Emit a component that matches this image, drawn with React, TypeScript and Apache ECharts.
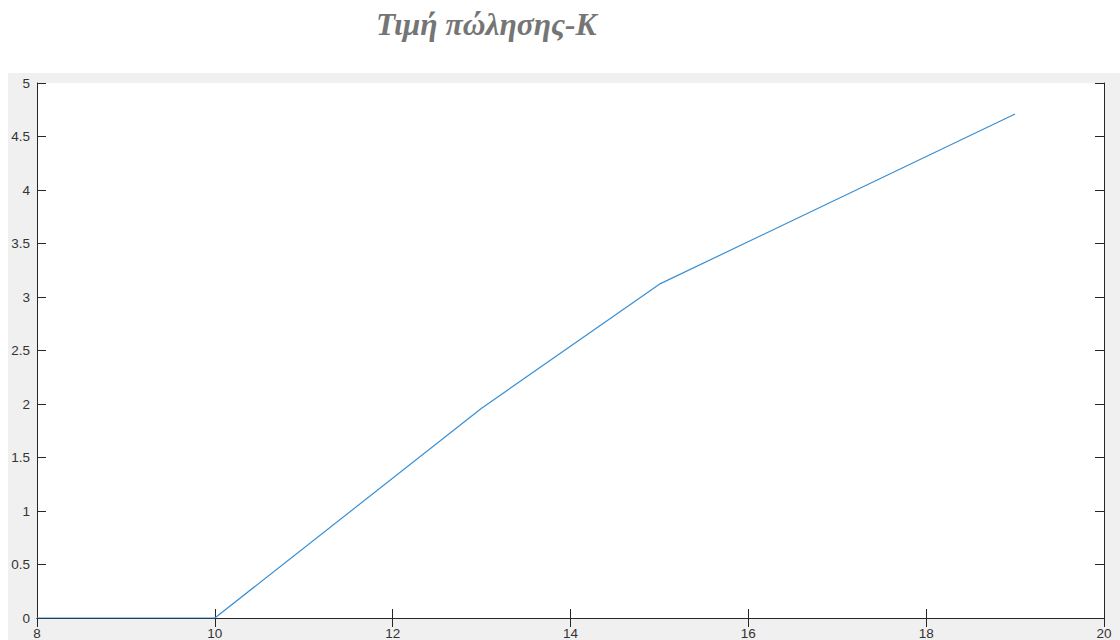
import React, { useEffect, useRef } from "react";
import * as echarts from "echarts";

const titleText = "Τιμή πώλησης-K";
const xValues = [8, 10, 13, 15, 19];
const yValues = [0, 0, 1.96, 3.12, 4.71];
const xTicks = { min: 8, max: 20, interval: 2 };
const yTicks = { min: 0, max: 5, interval: 0.5 };

export default function App() {
  const ref = useRef<HTMLDivElement>(null);
  useEffect(() => {
    document.body.style.margin = "0";
    const chart = echarts.init(ref.current!, null, { renderer: "svg" });
    const axisLine = { show: true, lineStyle: { color: "#262626", width: 1 } };
    const tick = { show: true, inside: true, length: 9, lineStyle: { color: "#262626" } };
    const label = { color: "#333333", fontSize: 13.5, fontFamily: "'Liberation Sans', Arial, sans-serif" };
    chart.setOption({
      animation: false,
      backgroundColor: "#ffffff",
      graphic: [
        {
          type: "rect",
          z: -10,
          silent: true,
          shape: { x: 8, y: 73, width: 1112, height: 567 },
          style: { fill: "#f0f0f0" },
        },
        {
          type: "text",
          left: 376,
          top: 8,
          style: {
            text: titleText,
            fill: "#757575",
            font: "italic bold 31.5px 'Liberation Serif', 'Times New Roman', serif",
          },
        },
      ],
      grid: { left: 37, right: 16, top: 83, bottom: 22, show: true, backgroundColor: "#ffffff", borderWidth: 0 },
      xAxis: [
        {
          type: "value",
          ...xTicks,
          position: "bottom",
          axisLine,
          axisTick: tick,
          splitLine: { show: false },
          axisLabel: { ...label, margin: 8 },
        },
        {
          type: "value",
          ...xTicks,
          position: "top",
          axisLine,
          axisTick: tick,
          splitLine: { show: false },
          axisLabel: { show: false },
        },
      ],
      yAxis: [
        {
          type: "value",
          ...yTicks,
          position: "left",
          axisLine,
          axisTick: tick,
          splitLine: { show: false },
          axisLabel: { ...label, margin: 7 },
        },
        {
          type: "value",
          ...yTicks,
          position: "right",
          axisLine,
          axisTick: tick,
          splitLine: { show: false },
          axisLabel: { show: false },
        },
      ],
      series: [
        {
          type: "line",
          data: xValues.map((x, i) => [x, yValues[i]]),
          showSymbol: false,
          lineStyle: { color: "#3a8fd3", width: 1.2 },
          itemStyle: { color: "#3a8fd3" },
        },
      ],
    });
    return () => chart.dispose();
  }, []);
  return <div ref={ref} style={{ width: 1120, height: 640 }} />;
}
